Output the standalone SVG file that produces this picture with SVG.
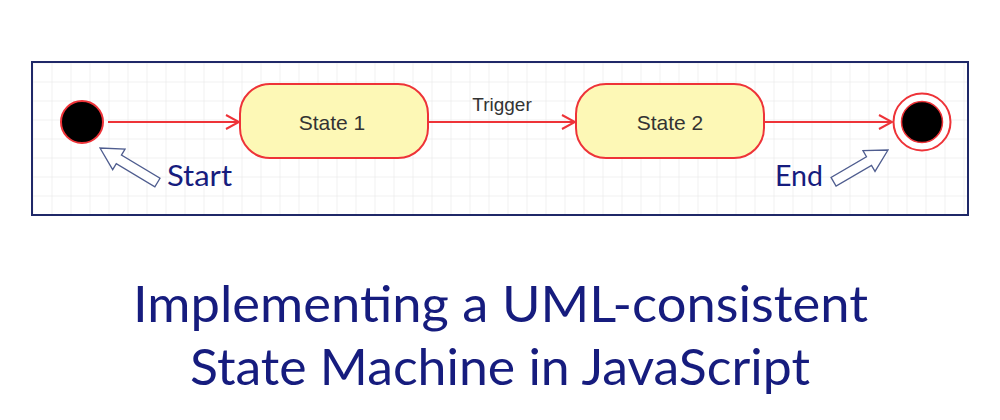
<svg xmlns="http://www.w3.org/2000/svg" width="1000" height="420" viewBox="0 0 1000 420">
  <defs>
    <pattern id="grid" x="33.5" y="63.5" width="19" height="19" patternUnits="userSpaceOnUse">
      <path d="M19 0V19M0 19H19" fill="none" stroke="#e2e2e2" stroke-width="1"/>
    </pattern>
    <marker id="open" markerWidth="16" markerHeight="16" refX="14" refY="8" orient="auto" markerUnits="userSpaceOnUse">
      <path d="M1 1L14 8L1 15" fill="none" stroke="#ee3338" stroke-width="2"/>
    </marker>
    <style>
      .state{fill:#fdf8b6;stroke:#ee3338;stroke-width:2}
      .stext{font-family:"Liberation Sans",Arial,sans-serif;font-size:21px;fill:#333;text-anchor:middle}
      .conn{stroke:#ee3338;stroke-width:2;fill:none}
      .navy{font-family:Lato,"Open Sans",sans-serif;fill:#161c7e}
      .hollow{fill:#fff;stroke:#4f5d8f;stroke-width:1.3}
    </style>
  </defs>
  <rect width="1000" height="420" fill="#fff"/>
  <rect x="32" y="62" width="936" height="153" fill="url(#grid)" stroke="#1f2868" stroke-width="2"/>

  <g id="connectors">
    <line class="conn" x1="108" y1="122" x2="239" y2="122" marker-end="url(#open)"/>
    <line class="conn" x1="428" y1="122" x2="575" y2="122" marker-end="url(#open)"/>
    <text x="502" y="111" font-family="Liberation Sans, Arial, sans-serif" font-size="19" fill="#333" text-anchor="middle">Trigger</text>
    <line class="conn" x1="764" y1="122" x2="892" y2="122" marker-end="url(#open)"/>
  </g>

  <g id="start">
    <circle cx="82" cy="122" r="21" fill="#000" stroke="#ee3338" stroke-width="2"/>
    <polygon class="hollow" transform="translate(100,148) rotate(211)" points="0,0 -22,-12 -22,-5 -67,-5 -67,5 -22,5 -22,12"/>
    <text class="navy" x="167" y="186" font-size="28" textLength="65" lengthAdjust="spacingAndGlyphs">Start</text>
  </g>

  <g id="state1">
    <rect class="state" x="240" y="84" width="188" height="74" rx="30"/>
    <text class="stext" x="332" y="129.5">State 1</text>
  </g>

  <g id="state2">
    <rect class="state" x="576" y="84" width="188" height="74" rx="30"/>
    <text class="stext" x="670" y="129.5">State 2</text>
  </g>

  <g id="end">
    <circle cx="922" cy="122" r="28.5" fill="#fff" stroke="#ee3338" stroke-width="2"/>
    <circle cx="922" cy="122" r="20.5" fill="#000" stroke="#ee3338" stroke-width="1.5"/>
    <polygon class="hollow" transform="translate(888,150) rotate(-30.2)" points="0,0 -22,-12 -22,-5 -63,-5 -63,5 -22,5 -22,12"/>
    <text class="navy" x="775" y="186" font-size="28" textLength="48" lengthAdjust="spacingAndGlyphs">End</text>
  </g>

  <g id="title">
    <text class="navy" x="133" y="322" font-size="51" textLength="735" lengthAdjust="spacingAndGlyphs">Implementing a UML-consistent</text>
    <text class="navy" x="190" y="385" font-size="51" textLength="620" lengthAdjust="spacingAndGlyphs">State Machine in JavaScript</text>
  </g>
</svg>
